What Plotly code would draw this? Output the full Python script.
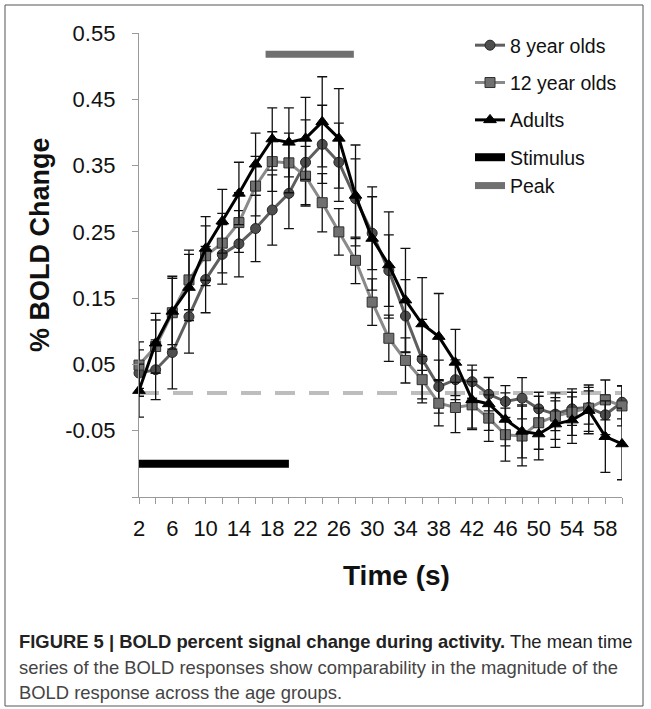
import plotly.graph_objects as go

time_s = list(range(2, 61, 2))

yo8 = [0.037, 0.042, 0.068, 0.122, 0.178, 0.216, 0.232, 0.255, 0.283, 0.308,
       0.355, 0.382, 0.355, 0.300, 0.248, 0.1915, 0.123, 0.058, 0.0165, 0.027,
       0.024, 0.005, -0.006, -0.001, -0.017, -0.025, -0.017, -0.015, -0.026, -0.007]
yo8_err = [0.035, 0.045, 0.055, 0.055, 0.05, 0.045, 0.05, 0.05, 0.053, 0.053,
           0.064, 0.059, 0.059, 0.06, 0.055, 0.054, 0.055, 0.06, 0.04, 0.03,
           0.025, 0.025, 0.024, 0.031, 0.025, 0.025, 0.025, 0.025, 0.03, 0.025]

yo12 = [0.049, 0.077, 0.128, 0.1775, 0.214, 0.233, 0.264, 0.319, 0.356, 0.354,
        0.334, 0.294, 0.25, 0.207, 0.144, 0.0895, 0.056, 0.027, -0.0086, -0.015,
        -0.011, -0.031, -0.056, -0.058, -0.038, -0.028, -0.022, -0.016, -0.0035, -0.0126]
yo12_err = [0.035, 0.04, 0.055, 0.045, 0.045, 0.045, 0.045, 0.045, 0.045, 0.045,
            0.045, 0.044, 0.035, 0.035, 0.035, 0.035, 0.034, 0.035, 0.034, 0.038,
            0.035, 0.035, 0.04, 0.045, 0.04, 0.035, 0.035, 0.035, 0.03, 0.03]

adults = [0.0105, 0.082, 0.13, 0.166, 0.225, 0.266, 0.308, 0.352, 0.39, 0.385,
          0.391, 0.416, 0.391, 0.305, 0.24, 0.20, 0.147, 0.111, 0.092, 0.053,
          -0.0035, -0.0096, -0.033, -0.051, -0.055, -0.04, -0.034, -0.0196, -0.059, -0.07]
adults_err = [0.04, 0.045, 0.05, 0.05, 0.048, 0.048, 0.047, 0.047, 0.047, 0.052,
              0.062, 0.068, 0.075, 0.076, 0.078, 0.08, 0.078, 0.07, 0.065, 0.05,
              0.045, 0.04, 0.04, 0.04, 0.039, 0.035, 0.035, 0.035, 0.054, 0.054]

stim_x = [2, 20]
stim_y = [-0.10, -0.10]
peak_x = [17.2, 27.8]
peak_y = [0.518, 0.518]
base_x = [2, 60]
base_y = [0.007, 0.007]

y_ticks = [-0.15, -0.05, 0.05, 0.15, 0.25, 0.35, 0.45, 0.55]
y_tick_text = ["", "-0.05", "0.05", "0.15", "0.25", "0.35", "0.45", "0.55"]
x_tick_text = [str(t) if (t - 2) % 4 == 0 else "" for t in time_s]

caption_lines = [
    "<b>FIGURE 5 | BOLD percent signal change during activity.</b> The mean time",
    "series of the BOLD responses show comparability in the magnitude of the",
    "BOLD response across the age groups.",
]

FONT = "Liberation Sans, Arial, sans-serif"

fig = go.Figure()

fig.add_trace(go.Scatter(x=base_x, y=base_y, mode="lines", showlegend=False,
                         line=dict(color="#bdbdbd", width=4, dash="20px,14px"),
                         hoverinfo="skip"))


def err(arr):
    return dict(type="data", array=arr, visible=True, color="#111111",
                thickness=1.3, width=5)


fig.add_trace(go.Scatter(
    x=time_s, y=yo8, name="8 year olds", mode="lines+markers",
    line=dict(color="#5e5e5e", width=3),
    marker=dict(symbol="circle", size=10, color="#4e4e4e",
                line=dict(color="#262626", width=1)),
    error_y=err(yo8_err), legendgroup="a", cliponaxis=False))

fig.add_trace(go.Scatter(
    x=time_s, y=yo12, name="12 year olds", mode="lines+markers",
    line=dict(color="#8a8a8a", width=3),
    marker=dict(symbol="square", size=10, color="#707070",
                line=dict(color="#303030", width=1)),
    error_y=err(yo12_err), legendgroup="b", cliponaxis=False))

fig.add_trace(go.Scatter(
    x=time_s, y=adults, name="Adults", mode="lines+markers",
    line=dict(color="#000000", width=3),
    marker=dict(symbol="triangle-up", size=11, color="#000000",
                line=dict(color="#000000", width=1)),
    error_y=err(adults_err), legendgroup="c", cliponaxis=False))

fig.add_trace(go.Scatter(
    x=stim_x, y=stim_y, name="Stimulus", mode="lines",
    line=dict(color="#000000", width=8), legendgroup="d"))

fig.add_trace(go.Scatter(
    x=peak_x, y=peak_y, name="Peak", mode="lines",
    line=dict(color="#707070", width=7), legendgroup="d"))

L, R, T, B = 139, 29, 33, 212
PW, PH = 651 - L - R, 709 - T - B


def px(xp):
    return (xp - L) / PW


def py(yp):
    return (709 - B - yp) / PH


annotations = [
    dict(text="<b>% BOLD Change</b>", x=px(40), y=py(245), xref="paper",
         yref="paper", textangle=-90, showarrow=False, xanchor="center",
         yanchor="middle", font=dict(size=27, family=FONT, color="#111111")),
    dict(text="<b>Time (s)</b>", x=px(396), y=py(575), xref="paper",
         yref="paper", showarrow=False, xanchor="center", yanchor="middle",
         font=dict(size=28, family=FONT, color="#111111")),
]
for i, (line, yy) in enumerate(zip(caption_lines, [641, 667, 692])):
    annotations.append(dict(
        text=line, x=px(17), y=py(yy), xref="paper", yref="paper",
        xanchor="left", yanchor="middle", showarrow=False,
        font=dict(size=18.4, family=FONT, color="#222222" if i == 0 else "#444444")))

fig.update_layout(
    width=651, height=709,
    margin=dict(l=L, r=R, t=T, b=B),
    paper_bgcolor="white", plot_bgcolor="white",
    font=dict(family=FONT, size=22, color="#111111"),
    showlegend=True,
    legend=dict(x=px(470), y=py(26), xanchor="left", yanchor="top",
                bgcolor="rgba(0,0,0,0)", traceorder="grouped",
                tracegroupgap=9, font=dict(size=19.5, family=FONT),
                itemwidth=30),
    xaxis=dict(range=[2, 60], tickvals=time_s, ticktext=x_tick_text,
               showgrid=False, zeroline=False, showline=True,
               linecolor="#9a9a9a", linewidth=1.3, ticks="outside",
               ticklen=6, tickcolor="#9a9a9a", ticklabelstandoff=5,
               tickfont=dict(size=22)),
    yaxis=dict(range=[-0.15, 0.55], tickvals=y_ticks, ticktext=y_tick_text,
               showgrid=False, zeroline=False, showline=True,
               linecolor="#9a9a9a", linewidth=1.3, ticks="outside",
               ticklen=6, tickcolor="#9a9a9a", ticklabelstandoff=12,
               tickfont=dict(size=22)),
    annotations=annotations,
    shapes=[
        dict(type="rect", xref="paper", yref="paper",
             x0=px(5), x1=px(643), y0=py(706), y1=py(5),
             line=dict(color="#555555", width=1), fillcolor="rgba(0,0,0,0)",
             layer="below"),
    ],
)

fig.write_html("out.html")
